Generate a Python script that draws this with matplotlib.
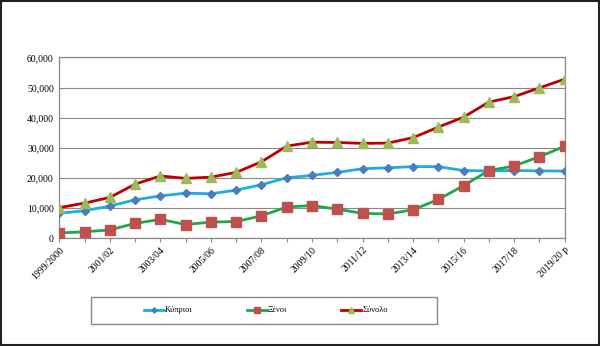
import matplotlib.pyplot as plt
from matplotlib.patches import Rectangle

years = ["1999/2000", "2000/01", "2001/02", "2002/03", "2003/04", "2004/05", "2005/06",
         "2006/07", "2007/08", "2008/09", "2009/10", "2010/11", "2011/12", "2012/13",
         "2013/14", "2014/15", "2015/16", "2016/17", "2017/18", "2018/19", "2019/20 p"]
kyprioi = [8300, 9200, 10700, 12800, 14100, 15000, 14800, 16000, 17800, 20100, 20900,
           21900, 23100, 23400, 23800, 23800, 22500, 22400, 22500, 22400, 22300]
xenoi = [1800, 2200, 2800, 5000, 6300, 4600, 5400, 5600, 7500, 10400, 10900,
         9700, 8300, 8100, 9500, 12900, 17500, 22500, 24000, 27100, 30500]
synolo = [10200, 11700, 13600, 18000, 20700, 19900, 20300, 21900, 25400, 30600, 31900,
          31800, 31500, 31600, 33400, 36900, 40200, 45200, 47000, 49900, 52800]

plt.rcParams["font.family"] = ["Liberation Serif", "DejaVu Serif"]

fig = plt.figure(figsize=(6, 3.46), dpi=100)
ax = fig.add_axes([0.099, 0.311, 0.842, 0.523])
x = range(len(years))

ax.plot(x, kyprioi, color="#1aaee6", lw=2, marker="D", ms=4.5,
        mfc="#4a7cc4", mec="#4a7cc4", label="Κύπριοι", zorder=3)
ax.plot(x, xenoi, color="#1ca84e", lw=2, marker="s", ms=7,
        mfc="#c0504d", mec="#c0504d", label="Ξένοι", zorder=3)
ax.plot(x, synolo, color="#c00000", lw=2, marker="^", ms=7,
        mfc="#9bbb59", mec="#9bbb59", label="Σύνολο", zorder=3)

ax.set_xlim(0, len(years) - 1)
ax.set_ylim(0, 60000)
ax.set_yticks(range(0, 60001, 10000))
ax.set_yticklabels([f"{v:,}" for v in range(0, 60001, 10000)], fontsize=7)
ax.set_xticks(list(x))
ax.set_xticklabels([y if i % 2 == 0 else "" for i, y in enumerate(years)],
                   rotation=45, ha="right", rotation_mode="anchor", fontsize=7)
ax.tick_params(axis="x", length=3, color="#888888", pad=2)
ax.tick_params(axis="y", length=0, pad=4)
ax.grid(True, axis="y", color="#888888", lw=0.8, zorder=0)
for s in ax.spines.values():
    s.set_color("#888888")
    s.set_linewidth(0.9)

# legend box drawn separately, entries centred inside
fig.patches.append(Rectangle((91 / 600, 1 - 324 / 346), 346 / 600, 27 / 346,
                             transform=fig.transFigure, fill=False,
                             edgecolor="#888888", lw=1.0))
fig.legend(loc="center", bbox_to_anchor=(266 / 600, 1 - 310.5 / 346), ncol=3, fontsize=6,
           frameon=False, handlelength=2.4, handletextpad=0.1, columnspacing=6.5,
           markerscale=0.6)

fig.patches.append(Rectangle((0.002, 0.003), 0.996, 0.994, transform=fig.transFigure,
                             fill=False, edgecolor="#222222", lw=1.5))

fig.savefig("out.png", dpi=100)
